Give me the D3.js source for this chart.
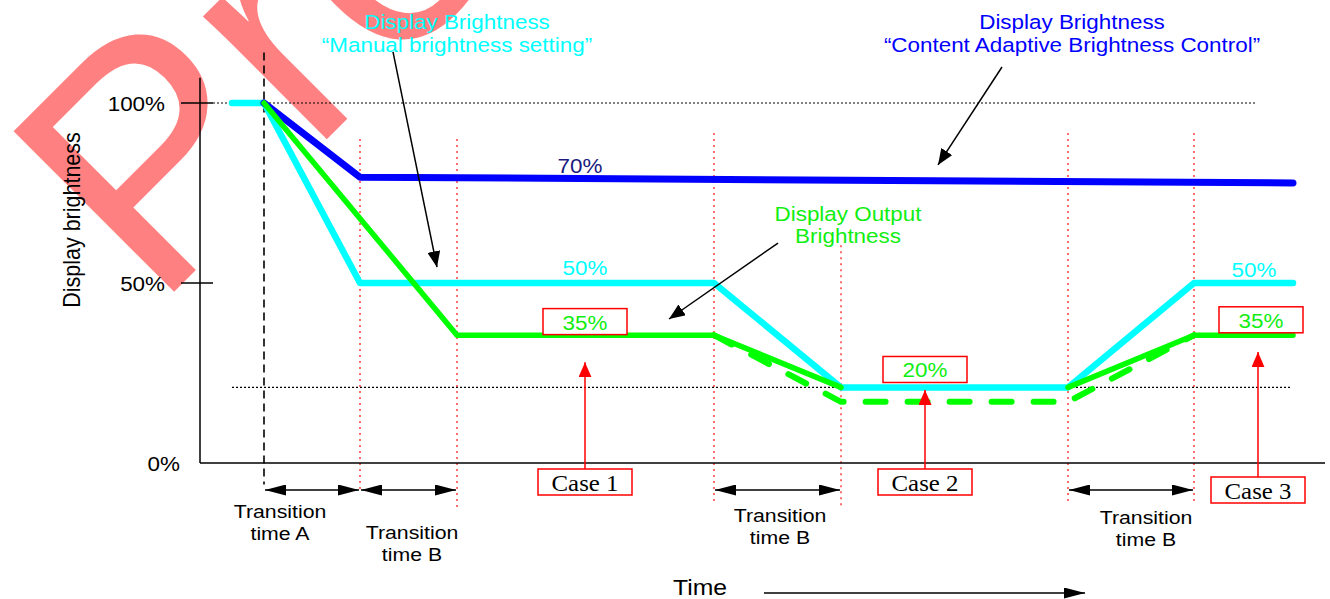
<!DOCTYPE html>
<html>
<head>
<meta charset="utf-8">
<script src="https://cdn.jsdelivr.net/npm/d3@7"></script>
<style>
  body { margin: 0; background: #fff; }
  svg { display: block; }
</style>
</head>
<body>
<div class="diagram"></div>
<script>
const w = 1330, h = 599;
const sans = '"Liberation Sans", Arial, sans-serif',
      serif = '"Liberation Serif", "Times New Roman", serif';

// time in arbitrary units, brightness in percent
const yTicks = [0, 50, 100];
const yTickLabels = ["0%", "50%", "100%"];
const manualT = [0.32, 0.64, 1.60, 5.14, 6.41, 8.68, 9.94, 10.93];
const manualV = [100, 100, 50, 50, 21, 21, 50, 50];
const cabcT = [0.64, 1.60, 10.93];
const cabcV = [100, 79.4, 77.8];
const outputT = [0.64, 2.57, 5.14, 6.41, 7.5, 8.68, 9.94, 10.93];
const outputV = [100, 35.5, 35.5, 21, null, 21, 35.5, 35.5];
const altT = [5.14, 6.41, 8.68, 9.94];
const altV = [35.5, 17, 17, 35.5];
const eventT = [1.60, 2.57, 5.14, 6.41, 8.68, 9.94];
const eventTop = [90, 90, 91.7, 60.5, 91.7, 91.7];
const eventBottom = [-7.5, -13, -11, -12.8, -11, -11];
const transitions = [[0.64, 1.60], [1.60, 2.57], [5.14, 6.41], [8.68, 9.94]];
const transitionNames = ["Transition|time A", "Transition|time B", "Transition|time B", "Transition|time B"];
const caseNames = ["Case 1", "Case 2", "Case 3"];
const caseT = [3.85, 7.25, 10.58];
const caseTip = [28, 20.3, 30.8];
const valueLabels = ["70%", "50%", "35%", "20%", "50%", "35%"];

// layout of the annotations
const valuePos = [[3.80, 82.5], [3.85, 54.2], [3.85, 39.0], [7.25, 25.7], [10.54, 53.6], [10.61, 39.5]];
const valueColor = ["#1a1a80", "#00ffff", "#11ee11", "#11ee11", "#00ffff", "#11ee11"];
const valueBoxed = [false, false, true, true, false, true];
const transitionLabelPos = [[0.80, 512], [2.12, 533], [5.80, 516], [9.46, 518]];
const caseBoxY = [482, 482, 490];

const svg = d3.select(".diagram")
  .append("svg")
  .attr("width", w)
  .attr("height", h);

const x = d3.scaleLinear().domain([0, 11.25]).range([200, 1325]);
const y = d3.scaleLinear().domain([0, 100]).range([463, 103]);

const defs = svg.append("defs");
function marker(id, len, wid, color) {
  defs.append("marker")
    .attr("id", id)
    .attr("viewBox", `0 0 ${len} ${wid}`)
    .attr("refX", len).attr("refY", wid / 2)
    .attr("markerWidth", len).attr("markerHeight", wid)
    .attr("markerUnits", "userSpaceOnUse")
    .attr("orient", "auto-start-reverse")
    .append("path")
    .attr("d", `M0,0L${len},${wid / 2}L0,${wid}Z`)
    .attr("fill", color);
}
marker("headBig", 21, 11, "#000");
marker("headSmall", 16, 13, "#000");
marker("headRed", 15, 13, "#ff0000");

function label(sel, px, py, str, o = {}) {
  return sel.append("text")
    .attr("transform", `translate(${px},${py}) scale(${o.sx ?? 1.15},1)`)
    .attr("text-anchor", o.anchor || "middle")
    .attr("dominant-baseline", "central")
    .style("font-family", o.family || sans)
    .style("font-size", (o.size || 19.5) + "px")
    .attr("fill", o.color || "#000")
    .text(str);
}

// watermark
svg.append("text")
  .attr("transform", "translate(155,311) rotate(-45)")
  .style("font-family", sans)
  .style("font-size", "330px")
  .attr("fill", "#ff8080")
  .text("Pre");

// guide lines
svg.append("line")
  .attr("x1", x(0.13)).attr("x2", x(10.57))
  .attr("y1", y(100)).attr("y2", y(100))
  .attr("stroke", "#000").attr("stroke-width", 1.2).attr("stroke-dasharray", "2,2");
svg.append("line")
  .attr("x1", x(0.32)).attr("x2", x(10.9))
  .attr("y1", y(21)).attr("y2", y(21))
  .attr("stroke", "#000").attr("stroke-width", 1.2).attr("stroke-dasharray", "2,2");

svg.selectAll(".event")
  .data(eventT)
  .enter()
  .append("line")
  .attr("class", "event")
  .attr("x1", (d) => x(d)).attr("x2", (d) => x(d))
  .attr("y1", (d, i) => y(eventTop[i]))
  .attr("y2", (d, i) => y(eventBottom[i]))
  .attr("stroke", "#ff2020").attr("stroke-width", 1.3).attr("stroke-dasharray", "2,4");

svg.append("line")
  .attr("x1", x(0.64)).attr("x2", x(0.64))
  .attr("y1", y(114)).attr("y2", y(-6))
  .attr("stroke", "#000").attr("stroke-width", 1.6).attr("stroke-dasharray", "8,5");

// axes
svg.append("line")
  .attr("x1", x(0)).attr("x2", x(0))
  .attr("y1", y(107)).attr("y2", y(0))
  .attr("stroke", "#000").attr("stroke-width", 1.5);
svg.append("line")
  .attr("x1", x(0)).attr("x2", x(11.25))
  .attr("y1", y(0)).attr("y2", y(0))
  .attr("stroke", "#000").attr("stroke-width", 1.5);

svg.selectAll(".tick")
  .data(yTicks.filter((d) => d > 0))
  .enter()
  .append("line")
  .attr("class", "tick")
  .attr("x1", x(0) - 19).attr("x2", x(0) + 13)
  .attr("y1", (d) => y(d)).attr("y2", (d) => y(d))
  .attr("stroke", "#000").attr("stroke-width", 1.5);

yTicks.forEach((d, i) => {
  label(svg, d === 0 ? 180 : 165, y(d) + 1, yTickLabels[i], { anchor: "end" });
});

svg.append("text")
  .attr("transform", "translate(72,220) rotate(-90) scale(1,1.12)")
  .attr("text-anchor", "middle")
  .attr("dominant-baseline", "central")
  .style("font-family", sans)
  .style("font-size", "21.5px")
  .text("Display brightness");

// brightness curves
const line = d3.line()
  .defined((d) => d.v !== null)
  .x((d) => x(d.t))
  .y((d) => y(d.v));
const pts = (ts, vs) => ts.map((t, i) => ({ t: t, v: vs[i] }));

function curve(data, color, width, dash) {
  svg.append("path")
    .datum(data)
    .attr("d", line)
    .attr("fill", "none")
    .attr("stroke", color)
    .attr("stroke-width", width)
    .attr("stroke-linejoin", "round")
    .attr("stroke-linecap", "round")
    .attr("stroke-dasharray", dash || null);
}
curve(pts(manualT, manualV), "#00ffff", 6.5);
curve(pts(cabcT, cabcV), "#0000ff", 7);
curve(pts(outputT, outputV), "#00ff00", 5.5);
curve(pts(altT, altV), "#00ff00", 6, "20,22");

// value labels
valueLabels.forEach((s, i) => {
  const px = x(valuePos[i][0]), py = y(valuePos[i][1]);
  if (valueBoxed[i]) {
    svg.append("rect")
      .attr("x", px - 42).attr("y", py - 14)
      .attr("width", 84).attr("height", 26)
      .attr("fill", "#fff")
      .attr("stroke", "#ff0000").attr("stroke-width", 1.5);
  }
  label(svg, px, py, s, { color: valueColor[i] });
});

// series titles
label(svg, 457, 22, "Display Brightness", { color: "#00ffff" });
label(svg, 457, 45, "\u201cManual brightness setting\u201d", { color: "#00ffff" });
label(svg, 1072, 22, "Display Brightness", { color: "#0000ff" });
label(svg, 1072, 45, "\u201cContent Adaptive Brightness Control\u201d", { color: "#0000ff" });
label(svg, 848, 214, "Display Output", { color: "#11ee11" });
label(svg, 848, 236, "Brightness", { color: "#11ee11" });

// pointers from titles to curves
const pointers = [
  [[1.93, 114.2], [2.37, 54.4]],
  [[8.02, 110.0], [7.38, 82.8]],
  [[5.78, 61.1], [4.69, 40.0]]
];
svg.selectAll(".pointer")
  .data(pointers)
  .enter()
  .append("line")
  .attr("class", "pointer")
  .attr("x1", (d) => x(d[0][0])).attr("y1", (d) => y(d[0][1]))
  .attr("x2", (d) => x(d[1][0])).attr("y2", (d) => y(d[1][1]))
  .attr("stroke", "#000").attr("stroke-width", 1.5)
  .attr("marker-end", "url(#headSmall)");

// transition spans
svg.selectAll(".span")
  .data(transitions)
  .enter()
  .append("line")
  .attr("class", "span")
  .attr("x1", (d) => x(d[0]) + 1).attr("x2", (d) => x(d[1]) - 1)
  .attr("y1", y(-7.5)).attr("y2", y(-7.5))
  .attr("stroke", "#000").attr("stroke-width", 1.5)
  .attr("marker-start", "url(#headBig)")
  .attr("marker-end", "url(#headBig)");

transitionNames.forEach((s, i) => {
  const [t, py] = transitionLabelPos[i];
  s.split("|").forEach((part, j) => {
    label(svg, x(t), py + j * 22, part, { size: 18.5 });
  });
});

// cases
caseNames.forEach((s, i) => {
  const px = x(caseT[i]), py = caseBoxY[i];
  svg.append("line")
    .attr("x1", px).attr("x2", px)
    .attr("y1", py - 13).attr("y2", y(caseTip[i]))
    .attr("stroke", "#ff0000").attr("stroke-width", 1.5)
    .attr("marker-end", "url(#headRed)");
  svg.append("rect")
    .attr("x", px - 47).attr("y", py - 13)
    .attr("width", 94).attr("height", 26)
    .attr("fill", "#fff")
    .attr("stroke", "#ff0000").attr("stroke-width", 1.5);
  label(svg, px, py + 1, s, { family: serif, size: 23, sx: 1.08 });
});

// time axis title
label(svg, 700, 588, "Time", { size: 21.5 });
svg.append("line")
  .attr("x1", 764).attr("x2", 1085)
  .attr("y1", 593).attr("y2", 593)
  .attr("stroke", "#000").attr("stroke-width", 1.5)
  .attr("marker-end", "url(#headBig)");
</script>
</body>
</html>
